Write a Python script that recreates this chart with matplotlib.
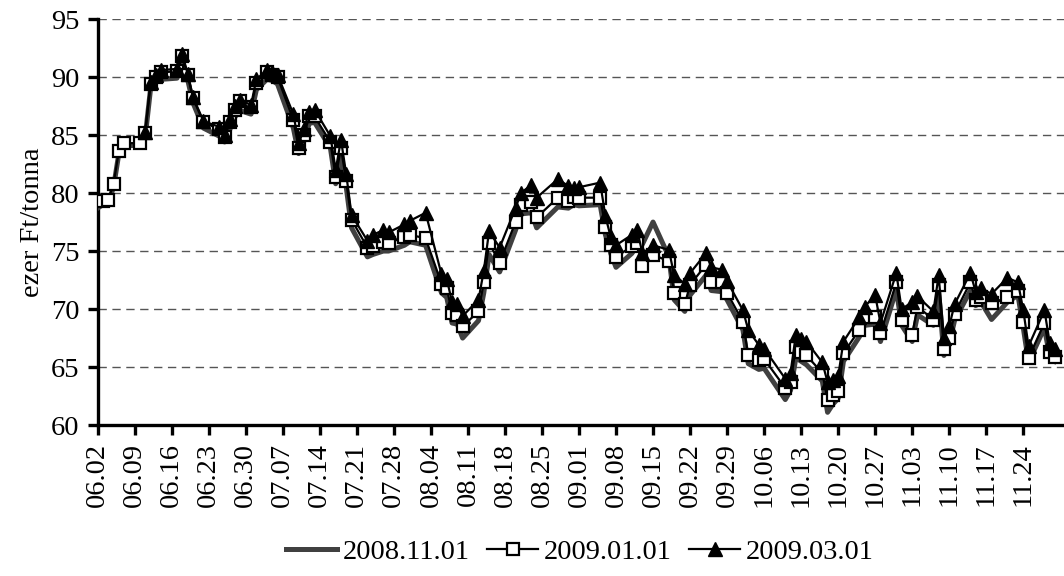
import numpy as np
import pandas as pd
import matplotlib
matplotlib.use("Agg")
import matplotlib.pyplot as plt
import matplotlib.dates as mdates

plt.rcParams['font.family'] = ['Liberation Serif', 'DejaVu Serif']

# napok (2008), MM.DD
napok = ["06.02", "06.03", "06.04", "06.05", "06.06", "06.07", "06.10", "06.11", "06.12", "06.13",
         "06.14", "06.17", "06.18", "06.19", "06.20", "06.22", "06.25", "06.26", "06.27", "06.28",
         "06.29", "07.01", "07.02", "07.04", "07.05", "07.06", "07.09", "07.10", "07.11", "07.12",
         "07.13", "07.16", "07.17", "07.18", "07.19", "07.20", "07.23", "07.24", "07.26", "07.27",
         "07.30", "07.31", "08.03", "08.06", "08.07", "08.08", "08.09", "08.10", "08.13", "08.14",
         "08.15", "08.17", "08.20", "08.21", "08.23", "08.24", "08.28", "08.30", "08.31", "09.01",
         "09.05", "09.06", "09.07", "09.08", "09.11", "09.12", "09.13", "09.15", "09.18", "09.19",
         "09.21", "09.22", "09.25", "09.26", "09.28", "09.29", "10.02", "10.03", "10.05", "10.06",
         "10.10", "10.11", "10.12", "10.13", "10.14", "10.17", "10.18", "10.19", "10.20", "10.21",
         "10.24", "10.25", "10.27", "10.28", "10.31", "11.01", "11.03", "11.04", "11.07", "11.08",
         "11.09", "11.10", "11.11", "11.14", "11.15", "11.16", "11.18", "11.21", "11.23", "11.24",
         "11.25", "11.28", "11.29", "11.30"]

nan = np.nan

# 2008.11.01 lejarat
nov01 = [78.7, 79.0, 79.2, 80.5, 83.4, 84.1, 84.1, 84.9, 89.0, 89.6,
         89.8, 89.9, 91.3, 89.8, 87.8, 85.6, 84.9, 84.4, 85.5, 86.6,
         87.1, 86.8, 88.9, 89.8, 89.7, 89.4, 85.6, 83.4, 84.5, 86.0,
         86.1, 83.9, 80.8, 83.3, 80.5, 77.0, 74.5, 74.7, 75.0, 75.0,
         75.5, 75.8, 75.5, 71.4, 71.0, 68.8, 68.7, 67.5, 69.0, 71.4,
         74.7, 73.2, 76.8, 78.2, 78.3, 77.0, 78.8, 78.7, 79.0, 78.9,
         79.0, 76.4, 74.8, 73.6, 74.8, 75.5, 75.6, 77.5, 74.5, 70.8,
         69.8, 71.2, 72.9, 71.6, 71.5, 70.8, 68.2, 65.3, 64.8, 64.9,
         62.2, 63.0, 65.8, 65.5, 65.2, 63.8, 61.1, 61.8, 62.3, 65.5,
         67.6, 68.6, 68.7, 67.2, 71.7, 68.6, 67.2, 69.5, 68.6, 71.5,
         66.0, 67.0, 69.0, 71.6, 70.3, 70.6, 69.1, 70.6, 71.2, 68.4,
         65.4, 68.4, 65.9, 65.5]

# 2009.01.01 lejarat
jan01 = [nan, 79.3, 79.4, 80.8, 83.6, 84.3, 84.3, 85.2, 89.4, 90.0,
         90.4, 90.5, 91.8, 90.2, 88.2, 86.1, 85.5, 84.8, 86.1, 87.2,
         87.9, 87.4, 89.5, 90.4, 90.2, 90.0, 86.3, 83.9, 85.0, 86.6,
         86.6, 84.4, 81.4, 83.9, 81.0, 77.7, 75.3, 75.4, 75.8, 75.7,
         76.2, 76.4, 76.1, 72.2, 71.8, 69.7, 69.5, 68.5, 69.8, 72.3,
         75.7, 74.0, 77.5, 79.0, 79.2, 77.9, 79.6, 79.3, 79.7, 79.6,
         79.6, 77.1, 75.5, 74.5, 75.4, 75.7, 73.7, 74.7, 74.1, 71.4,
         70.4, 72.1, 73.8, 72.3, 72.3, 71.4, 68.9, 66.0, 65.6, 65.7,
         63.2, 63.7, 66.7, 66.3, 66.0, 64.5, 62.2, 62.6, 62.9, 66.2,
         68.2, 69.3, 69.3, 67.9, 72.3, 69.1, 67.8, 70.2, 69.1, 72.1,
         66.6, 67.5, 69.6, 72.3, 70.8, 71.0, 70.5, 71.0, 71.6, 68.9,
         65.8, 68.8, 66.3, 65.9]

# 2009.03.01 lejarat
mar01 = [nan, nan, nan, nan, nan, nan, nan, 85.3, 89.6, 90.2,
         90.6, 90.7, 92.0, 90.3, 88.3, 86.2, 85.7, 85.0, 86.4, 87.5,
         88.0, 87.6, 89.8, 90.6, 90.4, 90.2, 86.8, 84.3, 85.5, 87.0,
         87.2, 84.9, 82.0, 84.6, 81.6, 78.1, 75.9, 76.4, 76.8, 76.6,
         77.3, 77.6, 78.3, 73.0, 72.6, 70.6, 70.4, 69.4, 70.8, 73.3,
         76.7, 75.3, 78.7, 80.0, 80.7, 79.6, 81.2, 80.6, 80.4, 80.5,
         80.9, 78.0, 76.2, 75.5, 76.4, 76.8, 74.8, 75.5, 75.1, 72.9,
         72.2, 73.1, 74.8, 73.6, 73.4, 72.4, 69.9, 68.2, 66.9, 66.6,
         64.0, 64.5, 67.8, 67.4, 67.2, 65.4, 63.7, 63.9, 64.2, 67.2,
         69.3, 70.2, 71.2, 68.8, 73.1, 70.0, 70.6, 71.1, 69.8, 72.9,
         67.5, 68.5, 70.4, 73.1, 71.5, 71.8, 71.3, 72.7, 72.3, 69.9,
         66.8, 69.9, 67.1, 66.6]

x = pd.to_datetime(["2008." + d for d in napok], format="%Y.%m.%d")

fig = plt.figure(figsize=(10.64, 5.76), dpi=100)
ax = fig.add_axes([0.0918, 0.262, 0.9082, 0.705])

ax.plot(x, nov01, color='#404040', lw=3.6, label='2008.11.01', zorder=3)
ax.plot(x, jan01, color='black', lw=1.6, marker='s', ms=9, mfc='white', mec='black',
        mew=1.6, label='2009.01.01', zorder=4)
ax.plot(x, mar01, color='black', lw=1.6, marker='^', ms=9.5, mfc='black', mec='black',
        label='2009.03.01', zorder=5)

start = pd.Timestamp("2008-06-02")
ax.set_xlim(start, start + pd.Timedelta(days=182.7))
ax.set_ylim(60, 95)
ax.set_yticks(range(60, 96, 5))
ax.set_xticks(pd.date_range(start, "2008-11-24", freq="7D"))
ax.xaxis.set_major_formatter(mdates.DateFormatter('%m.%d'))
plt.setp(ax.get_xticklabels(), rotation=90)

ax.yaxis.grid(True, linestyle=(0, (6, 4)), color='#555555', lw=1)
ax.set_axisbelow(True)
for s in ['top', 'right']:
    ax.spines[s].set_visible(False)
for s in ['left', 'bottom']:
    ax.spines[s].set_linewidth(2.4)
ax.tick_params(axis='both', direction='out', length=7, width=2.4, labelsize=20.5, pad=6)

ax.set_ylabel('ezer Ft/tonna', fontsize=20.5, labelpad=4)

fig.legend(loc='lower center', bbox_to_anchor=(0.545, -0.025), ncol=3, frameon=False,
           fontsize=20.5, handlelength=1.8, handletextpad=0.2, columnspacing=0.6)

fig.savefig('out.png', dpi=100)
